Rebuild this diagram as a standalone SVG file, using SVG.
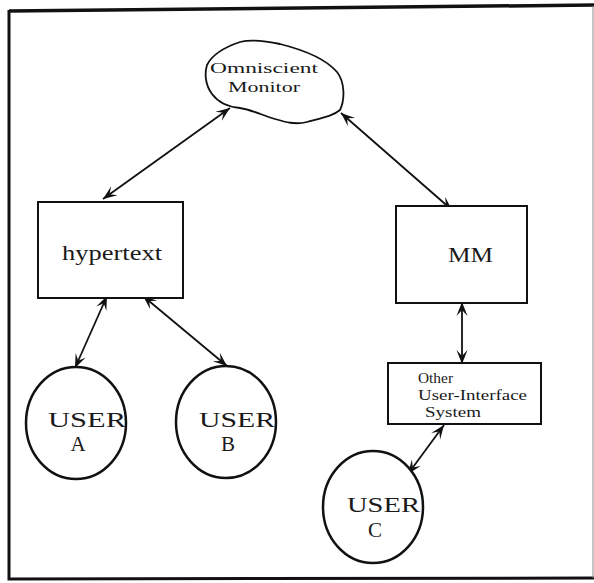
<svg xmlns="http://www.w3.org/2000/svg" width="594" height="583" viewBox="0 0 594 583">
<style>
.bx{fill:#fff;stroke:#111;stroke-width:2}
.cl{fill:#fff;stroke:#111;stroke-width:1.8}
.us{fill:#fff;stroke:#111;stroke-width:2.5}
.t{font-family:"Liberation Serif","DejaVu Serif",serif;fill:#1a1a1a}
.ln{stroke:#111;stroke-width:1.8;fill:none;marker-start:url(#ah);marker-end:url(#ah)}
</style>
<defs>
<marker id="ah" viewBox="-15 -7 16 14" refX="0" refY="0" markerWidth="16" markerHeight="14" markerUnits="userSpaceOnUse" orient="auto-start-reverse">
<path d="M0,0 L-14,-5.5 L-8,0 L-14,5.5 Z" fill="#111"/>
</marker>
</defs>
<rect width="594" height="583" fill="#fff"/>
<g id="frame">
<path d="M9,11 L594,5" stroke="#111" stroke-width="3.5" fill="none"/>
<path d="M9,10 L9,579 L594,578" stroke="#111" stroke-width="3" fill="none"/>
<path d="M593,6 L593,578" stroke="#888" stroke-width="1" fill="none"/>
</g>
<g id="connectors">
<line class="ln" x1="230" y1="108" x2="103" y2="199"/>
<line class="ln" x1="341" y1="113" x2="452" y2="210"/>
<line class="ln" x1="107" y1="296" x2="75" y2="368"/>
<line class="ln" x1="143" y1="296" x2="227" y2="366"/>
<line class="ln" x1="462" y1="302" x2="462" y2="364"/>
<line class="ln" x1="444" y1="425" x2="408" y2="474"/>
</g>
<g id="monitor">
<path class="cl" d="M207,65 C212,55 225,47 240,42 C252,39 266,41 280,44 C300,49 325,58 337,72 C345,82 345,100 340,110 C333,116 322,118 307,122 C295,125 285,122 275,119 C262,115 252,110 240,108 C228,107 218,102 212,94 C206,86 204,75 207,65 Z"/>
<text class="t" x="210" y="73" font-size="15" textLength="108" lengthAdjust="spacingAndGlyphs">Omniscient</text>
<text class="t" x="228" y="92" font-size="15" textLength="72" lengthAdjust="spacingAndGlyphs">Monitor</text>
</g>
<g id="hypertext">
<rect class="bx" x="38" y="202" width="145" height="96"/>
<text class="t" x="62" y="260" font-size="21" textLength="100" lengthAdjust="spacingAndGlyphs">hypertext</text>
</g>
<g id="mm">
<rect class="bx" x="396" y="206" width="131" height="97"/>
<text class="t" x="448" y="262" font-size="21" textLength="45" lengthAdjust="spacingAndGlyphs">MM</text>
</g>
<g id="other">
<rect class="bx" x="388" y="363" width="153" height="61"/>
<text class="t" x="418" y="383" font-size="15" textLength="35" lengthAdjust="spacingAndGlyphs">Other</text>
<text class="t" x="418" y="400" font-size="15" textLength="109" lengthAdjust="spacingAndGlyphs">User-Interface</text>
<text class="t" x="425" y="417" font-size="15" textLength="56" lengthAdjust="spacingAndGlyphs">System</text>
</g>
<g id="userA">
<ellipse class="us" cx="76" cy="423" rx="50" ry="56"/>
<text class="t" x="48" y="427" font-size="21" textLength="78" lengthAdjust="spacingAndGlyphs">USER</text>
<text class="t" x="78" y="451" font-size="21" text-anchor="middle">A</text>
</g>
<g id="userB">
<ellipse class="us" cx="226" cy="422" rx="50" ry="56"/>
<text class="t" x="199" y="427" font-size="21" textLength="76" lengthAdjust="spacingAndGlyphs">USER</text>
<text class="t" x="228" y="451" font-size="21" text-anchor="middle">B</text>
</g>
<g id="userC">
<ellipse class="us" cx="373" cy="507" rx="50" ry="56"/>
<text class="t" x="347" y="512" font-size="21" textLength="73" lengthAdjust="spacingAndGlyphs">USER</text>
<text class="t" x="375" y="537" font-size="21" text-anchor="middle">C</text>
</g>
</svg>
